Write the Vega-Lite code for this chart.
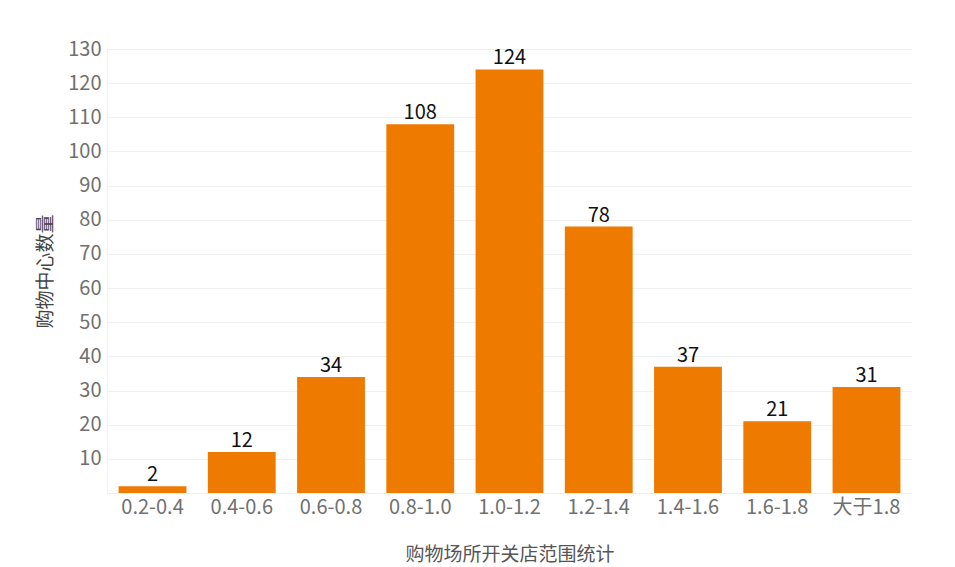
{
  "$schema": "https://vega.github.io/schema/vega-lite/v6.json",
  "width": 805,
  "height": 444,
  "autosize": {"type": "none"},
  "padding": {"left": 107, "top": 49, "right": 43, "bottom": 74},
  "background": "white",
  "config": {
    "font": "Noto Sans CJK SC",
    "view": {"stroke": null}
  },
  "data": {
    "values": [
      {"range": "0.2-0.4", "count": 2},
      {"range": "0.4-0.6", "count": 12},
      {"range": "0.6-0.8", "count": 34},
      {"range": "0.8-1.0", "count": 108},
      {"range": "1.0-1.2", "count": 124},
      {"range": "1.2-1.4", "count": 78},
      {"range": "1.4-1.6", "count": 37},
      {"range": "1.6-1.8", "count": 21},
      {"range": "大于1.8", "count": 31}
    ]
  },
  "encoding": {
    "x": {
      "field": "range",
      "type": "nominal",
      "sort": null,
      "scale": {"paddingInner": 0.24, "paddingOuter": 0.13},
      "axis": {
        "title": "购物场所开关店范围统计",
        "titleFontSize": 19,
        "titleFontWeight": "normal",
        "titleColor": "#555555",
        "titlePadding": 28,
        "labelAngle": 0,
        "labelFontSize": 20,
        "labelColor": "#707070",
        "labelPadding": 4,
        "labelOverlap": false,
        "ticks": false,
        "domainColor": "#eeeeee",
        "grid": false
      }
    },
    "y": {
      "field": "count",
      "type": "quantitative",
      "scale": {"domain": [0, 130], "nice": false},
      "axis": {
        "title": "购物中心数量",
        "titleFontSize": 19,
        "titleFontWeight": "normal",
        "titleColor": "#444444",
        "titlePadding": 12,
        "values": [10, 20, 30, 40, 50, 60, 70, 80, 90, 100, 110, 120, 130],
        "labelFontSize": 20,
        "labelColor": "#707070",
        "labelPadding": 6,
        "labelOverlap": false,
        "ticks": false,
        "domainColor": "#f2f2f2",
        "gridColor": "#f0f0f0",
        "gridWidth": 1
      }
    }
  },
  "layer": [
    {
      "mark": {"type": "bar", "color": "#EE7A00"}
    },
    {
      "mark": {"type": "text", "baseline": "bottom", "dy": -1, "fontSize": 20, "color": "#111111"},
      "encoding": {
        "text": {"field": "count", "type": "quantitative"}
      }
    }
  ]
}
